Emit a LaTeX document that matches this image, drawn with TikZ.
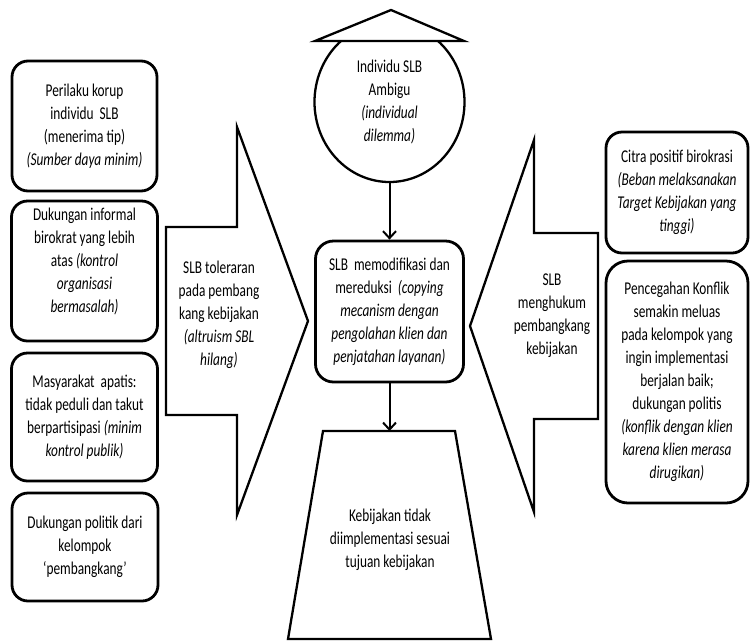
\documentclass[tikz,border=0pt]{standalone}
\usepackage{fontspec}
\setmainfont{Carlito}[FakeStretch=0.74]
\usetikzlibrary{shapes.geometric,arrows.meta}
\newcommand{\ti}[1]{\textit{#1}}
\begin{document}
\begin{tikzpicture}[x=1pt,y=-1pt,
  txt/.style={align=center,font=\fontsize{18}{23}\selectfont,inner sep=0pt},
  rbox/.style={txt,draw,line width=2.8pt,rounded corners=16pt,fill=white},
  shp/.style={draw,line width=2.3pt,line join=miter,fill=white},
  conn/.style={line width=2pt,-{Straight Barb[length=7pt,width=13pt,line width=2pt]}}]
\fill[white] (0,0) rectangle (750,641);
\useasboundingbox (0,0) rectangle (750,641);

% left column
\node[rbox,minimum width=145pt,minimum height=130pt] (l1) at (84.5,126)
  {Perilaku korup\\ individu\ \ SLB\\ (menerima tip)\\ \ti{(Sumber daya minim)}};
\node[rbox,minimum width=146pt,minimum height=140pt] (l2) at (84.5,271)
  {Dukungan informal\\ birokrat yang lebih\\ atas \ti{(kontrol}\\ \ti{organisasi}\\ \ti{bermasalah)}\\[-8pt]\strut};
\node[rbox,minimum width=146pt,minimum height=128pt] (l3) at (84.5,417)
  {Masyarakat\ \ apatis:\\ tidak peduli dan takut\\ berpartisipasi \ti{(minim}\\ \ti{kontrol publik)}};
\node[rbox,minimum width=146pt,minimum height=108pt] (l4) at (85,547)
  {Dukungan politik dari\\ kelompok\\ `pembangkang'};

% left block arrow
\draw[shp] (166,227) -- (237,227) -- (237,127) -- (308,321) -- (237,515) -- (237,415) -- (166,415) -- cycle;
\node[txt] (la) at (219,315)
  {SLB toleraran\\ pada pembang\\ kang kebijakan\\ \ti{(altruism SBL}\\ \ti{hilang)}};

% right block arrow
\draw[shp] (598,233) -- (534,233) -- (534,140) -- (470,326) -- (534,512) -- (534,419) -- (598,419) -- cycle;
\node[txt] (ra) at (552,316)
  {SLB\\ menghukum\\ pembangkang\\ kebijakan};

% right column
\node[rbox,minimum width=142pt,minimum height=121pt] (r1) at (677,192.5)
  {Citra positif birokrasi\\ \ti{(Beban melaksanakan}\\ \ti{Target Kebijakan yang}\\ \ti{tinggi)}};
\node[rbox,minimum width=142pt,minimum height=242pt,rounded corners=22pt] (r2) at (677,382)
  {Pencegahan Konflik\\ semakin meluas\\ pada kelompok yang\\ ingin implementasi\\ berjalan baik;\\ dukungan politis\\ \ti{(konflik dengan klien}\\ \ti{karena klien merasa}\\ \ti{dirugikan)}};

% centre column
\node[txt,draw,ellipse,line width=2.3pt,fill=white,minimum width=150pt,minimum height=160pt] (ind) at (389.5,102)
  {Individu SLB\\ Ambigu\\ \ti{(individual}\\ \ti{dilemma)}};
\draw[shp] (315,41) -- (391,10) -- (464,41) -- cycle;

\node[rbox,minimum width=148pt,minimum height=141pt,rounded corners=18pt] (mid) at (389.5,311.5)
  {SLB\ \ memodifikasi dan\\ mereduksi\ \ \ti{(copying}\\ \ti{mecanism dengan}\\ \ti{pengolahan klien dan}\\ \ti{penjatahan layanan)}};

\draw[shp] (323,431) -- (455,431) -- (491,639) -- (288,639) -- cycle;
\coordinate (tz) at (389.5,431);
\node[txt] (kt) at (390,540)
  {Kebijakan tidak\\ diimplementasi sesuai\\ tujuan kebijakan};

\draw[conn] (ind.south) -- (mid.north);
\draw[conn] (mid.south) -- (tz);
\end{tikzpicture}
\end{document}
